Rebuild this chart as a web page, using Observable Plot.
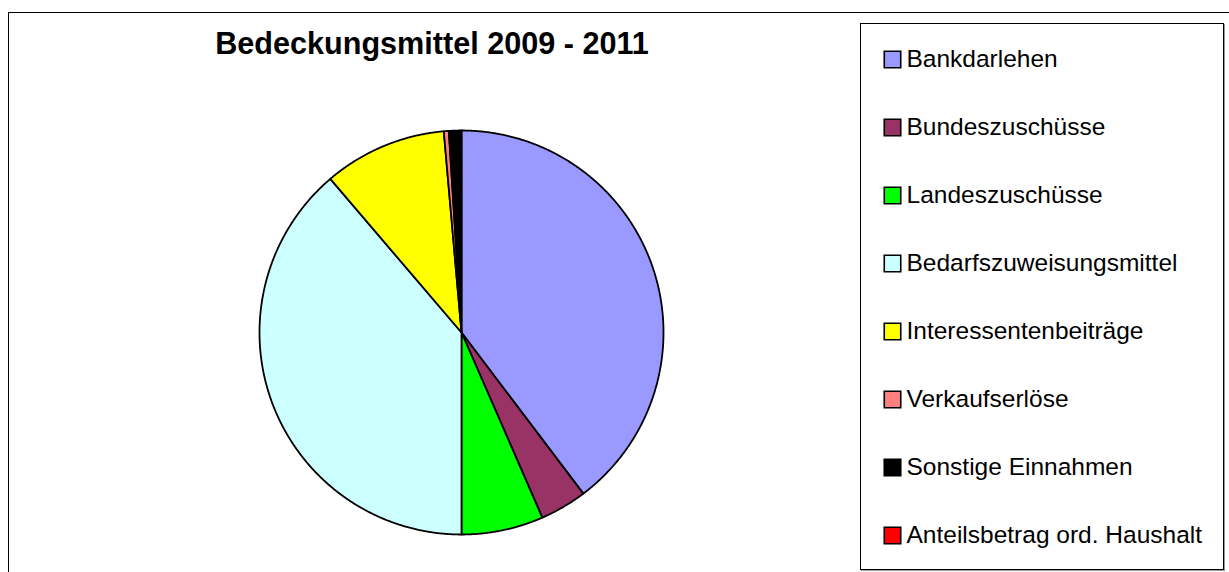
<!DOCTYPE html>
<html>
<head>
<meta charset="utf-8">
<script src="https://cdn.jsdelivr.net/npm/d3@7"></script>
<script src="https://cdn.jsdelivr.net/npm/@observablehq/plot@0.6"></script>
<style>
  html, body { margin: 0; padding: 0; background: #fff; }
  #root { position: relative; width: 1229px; height: 572px; overflow: hidden; font-family: "Liberation Sans", Arial, sans-serif; }
  #frame { position: absolute; left: 8px; top: 12px; width: 1400px; height: 800px; border-left: 1px solid #000; border-top: 1px solid #000; }
  #title { position: absolute; left: 0; width: 864px; top: 28px; text-align: center; font-weight: bold; font-size: 30.6px; line-height: 1; color: #000; white-space: nowrap; }
  #pie { position: absolute; left: 0; top: 0; }
  #legend { position: absolute; left: 860px; top: 23px; width: 362px; height: 545px; border: 1px solid #000; box-shadow: 1px 1px 0 #999; background: #fff; }
  #legend svg { position: absolute; left: 0; top: 0; }
</style>
</head>
<body>
<div id="root">
  <div id="frame"></div>
  <div id="pie"></div>
  <div id="title">Bedeckungsmittel 2009 - 2011</div>
  <div id="legend"></div>
</div>
<script>
const categories = [
  "Bankdarlehen",
  "Bundeszuschüsse",
  "Landeszuschüsse",
  "Bedarfszuweisungsmittel",
  "Interessentenbeiträge",
  "Verkaufserlöse",
  "Sonstige Einnahmen",
  "Anteilsbetrag ord. Haushalt"
];
const values = [39.7, 3.75, 6.55, 38.75, 9.85, 0.4, 1.0, 0];
const colors = ["#9999FF", "#993366", "#00FF00", "#CCFFFF", "#FFFF00", "#FF8080", "#000000", "#FF0000"];

// pie geometry via d3.pie (clockwise from 12 o'clock)
const arcs = d3.pie().sort(null).value(d => d)(values);
const pts = [];
arcs.forEach((a, i) => {
  if (values[i] <= 0) return;
  pts.push({key: categories[i], color: colors[i], x: 0, y: 0});
  const n = Math.max(2, Math.ceil((a.endAngle - a.startAngle) / 0.005));
  for (let k = 0; k <= n; k++) {
    const t = a.startAngle + (a.endAngle - a.startAngle) * k / n;
    pts.push({key: categories[i], color: colors[i], x: Math.sin(t), y: Math.cos(t)});
  }
});

const cx = 461, cy = 332, R = 202;
const pie = Plot.plot({
  width: 1229,
  height: 572,
  margin: 0,
  x: {domain: [-1, 1], range: [cx - R, cx + R], axis: null},
  y: {domain: [-1, 1], range: [cy + R, cy - R], axis: null},
  color: {type: "identity"},
  marks: [
    Plot.line(pts, {x: "x", y: "y", z: "key", fill: "color", stroke: "#000", strokeWidth: 1.8, strokeLinejoin: "round", curve: "linear-closed"})
  ]
});
pie.style.background = "transparent";
document.getElementById("pie").appendChild(pie);

const legendData = categories.map((c, i) => ({name: c, color: colors[i]}));
const legend = Plot.plot({
  width: 362,
  height: 545,
  margin: 0,
  x: {domain: [0, 1], range: [31, 45], axis: null},
  y: {type: "point", domain: categories, range: [34.5, 511.5], padding: 0, axis: null},
  color: {type: "identity"},
  marks: [
    Plot.dot(legendData, {x: () => 0, y: "name", symbol: "square", r: 9.3, fill: "color", stroke: "#000", strokeWidth: 1.6}),
    Plot.text(legendData, {x: () => 1, y: "name", text: "name", textAnchor: "start", fontSize: 24.5, fill: "#000", fontFamily: "Liberation Sans, Arial, sans-serif"})
  ]
});
legend.style.background = "transparent";
document.getElementById("legend").appendChild(legend);
</script>
</body>
</html>
